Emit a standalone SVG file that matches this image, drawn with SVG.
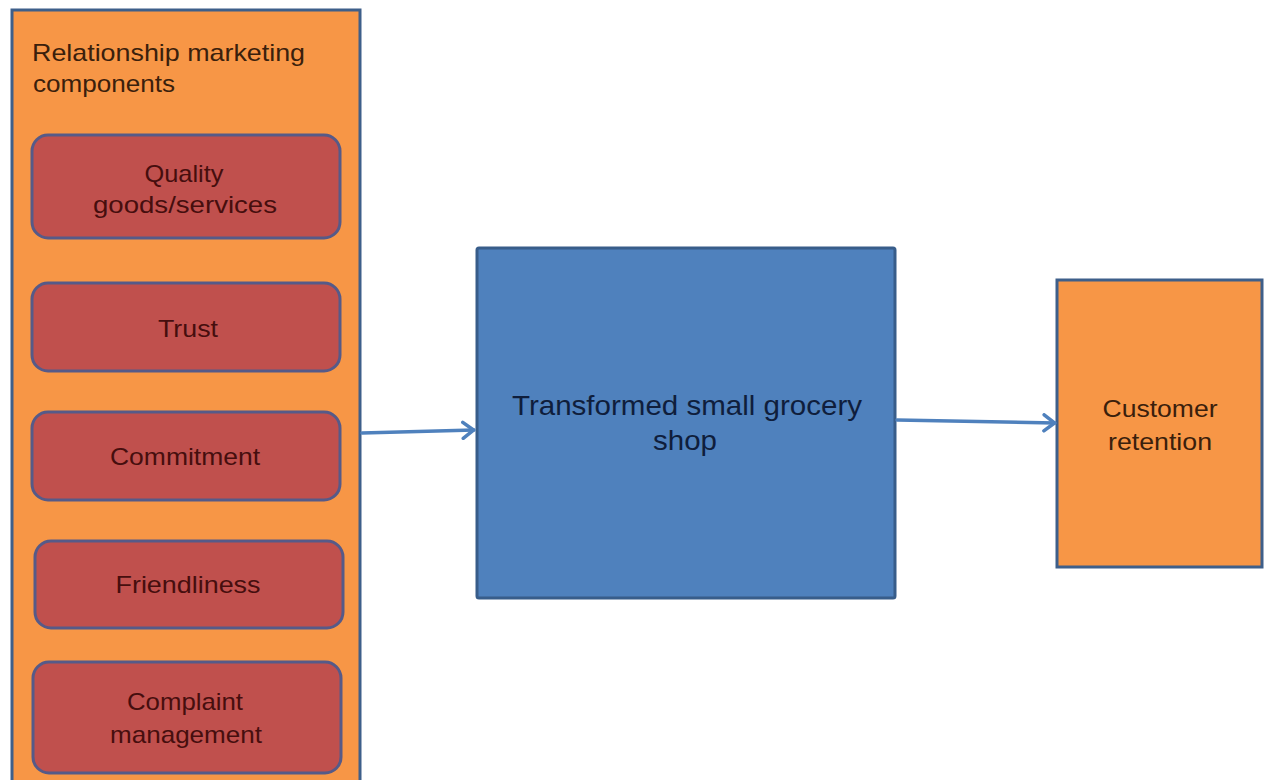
<svg xmlns="http://www.w3.org/2000/svg" width="1264" height="780" viewBox="0 0 1264 780">
  <style>
    .panel { fill: #f79646; stroke: #3e5f8a; stroke-width: 3; }
    .comp { fill: #c0504d; stroke: #565a88; stroke-width: 3; }
    .shop { fill: #4f81bd; stroke: #385d8a; stroke-width: 3; }
    .t { font-family: "Liberation Sans", Arial, sans-serif; font-size: 24px; }
    .tc { text-anchor: middle; }
    .dk { fill: #3a200c; }
    .rd { fill: #460e0e; }
    .bl { fill: #0f1e3c; font-size: 28px; }
    .conn { fill: none; stroke: #4f81bd; stroke-width: 3.5; stroke-linecap: round; stroke-linejoin: round; }
  </style>
  <defs>
    <marker id="arr" viewBox="0 0 16 20" refX="15" refY="10" markerWidth="16" markerHeight="20" markerUnits="userSpaceOnUse" orient="auto">
      <path d="M4,2 L14.5,10 L4,18" fill="none" stroke="#4f81bd" stroke-width="3.5" stroke-linecap="round" stroke-linejoin="round"/>
    </marker>
  </defs>
  <rect width="1264" height="780" fill="#ffffff"/>

  <g id="relationship-marketing-components">
    <rect class="panel" x="12" y="10" width="348" height="800"/>
    <text class="t dk" x="32" y="61" textLength="273" lengthAdjust="spacingAndGlyphs">Relationship marketing</text>
    <text class="t dk" x="33" y="92" textLength="142" lengthAdjust="spacingAndGlyphs">components</text>
  </g>

  <g id="quality">
    <rect class="comp" x="32" y="135" width="308" height="103" rx="16"/>
    <text class="t tc rd" x="184" y="182" textLength="79" lengthAdjust="spacingAndGlyphs">Quality</text>
    <text class="t tc rd" x="185" y="213" textLength="184" lengthAdjust="spacingAndGlyphs">goods/services</text>
  </g>

  <g id="trust">
    <rect class="comp" x="32" y="283" width="308" height="88" rx="16"/>
    <text class="t tc rd" x="188" y="337" textLength="60" lengthAdjust="spacingAndGlyphs">Trust</text>
  </g>

  <g id="commitment">
    <rect class="comp" x="32" y="412" width="308" height="88" rx="16"/>
    <text class="t tc rd" x="185" y="465" textLength="150" lengthAdjust="spacingAndGlyphs">Commitment</text>
  </g>

  <g id="friendliness">
    <rect class="comp" x="35" y="541" width="308" height="87" rx="16"/>
    <text class="t tc rd" x="188" y="593" textLength="145" lengthAdjust="spacingAndGlyphs">Friendliness</text>
  </g>

  <g id="complaint-management">
    <rect class="comp" x="33" y="662" width="308" height="111" rx="16"/>
    <text class="t tc rd" x="185" y="710" textLength="116" lengthAdjust="spacingAndGlyphs">Complaint</text>
    <text class="t tc rd" x="186" y="743" textLength="152" lengthAdjust="spacingAndGlyphs">management</text>
  </g>

  <g id="transformed-shop">
    <rect class="shop" x="477" y="248" width="418" height="350" rx="2"/>
    <text class="t tc bl" x="687" y="415" textLength="350" lengthAdjust="spacingAndGlyphs">Transformed small grocery</text>
    <text class="t tc bl" x="685" y="450" textLength="64" lengthAdjust="spacingAndGlyphs">shop</text>
  </g>

  <g id="customer-retention">
    <rect class="panel" x="1057" y="280" width="205" height="287"/>
    <text class="t tc dk" x="1160" y="417" textLength="115" lengthAdjust="spacingAndGlyphs">Customer</text>
    <text class="t tc dk" x="1160" y="450" textLength="104" lengthAdjust="spacingAndGlyphs">retention</text>
  </g>

  <g id="connectors">
    <path class="conn" d="M362,433 L474,430" marker-end="url(#arr)"/>
    <path class="conn" d="M897,420 L1055,423" marker-end="url(#arr)"/>
  </g>
</svg>
